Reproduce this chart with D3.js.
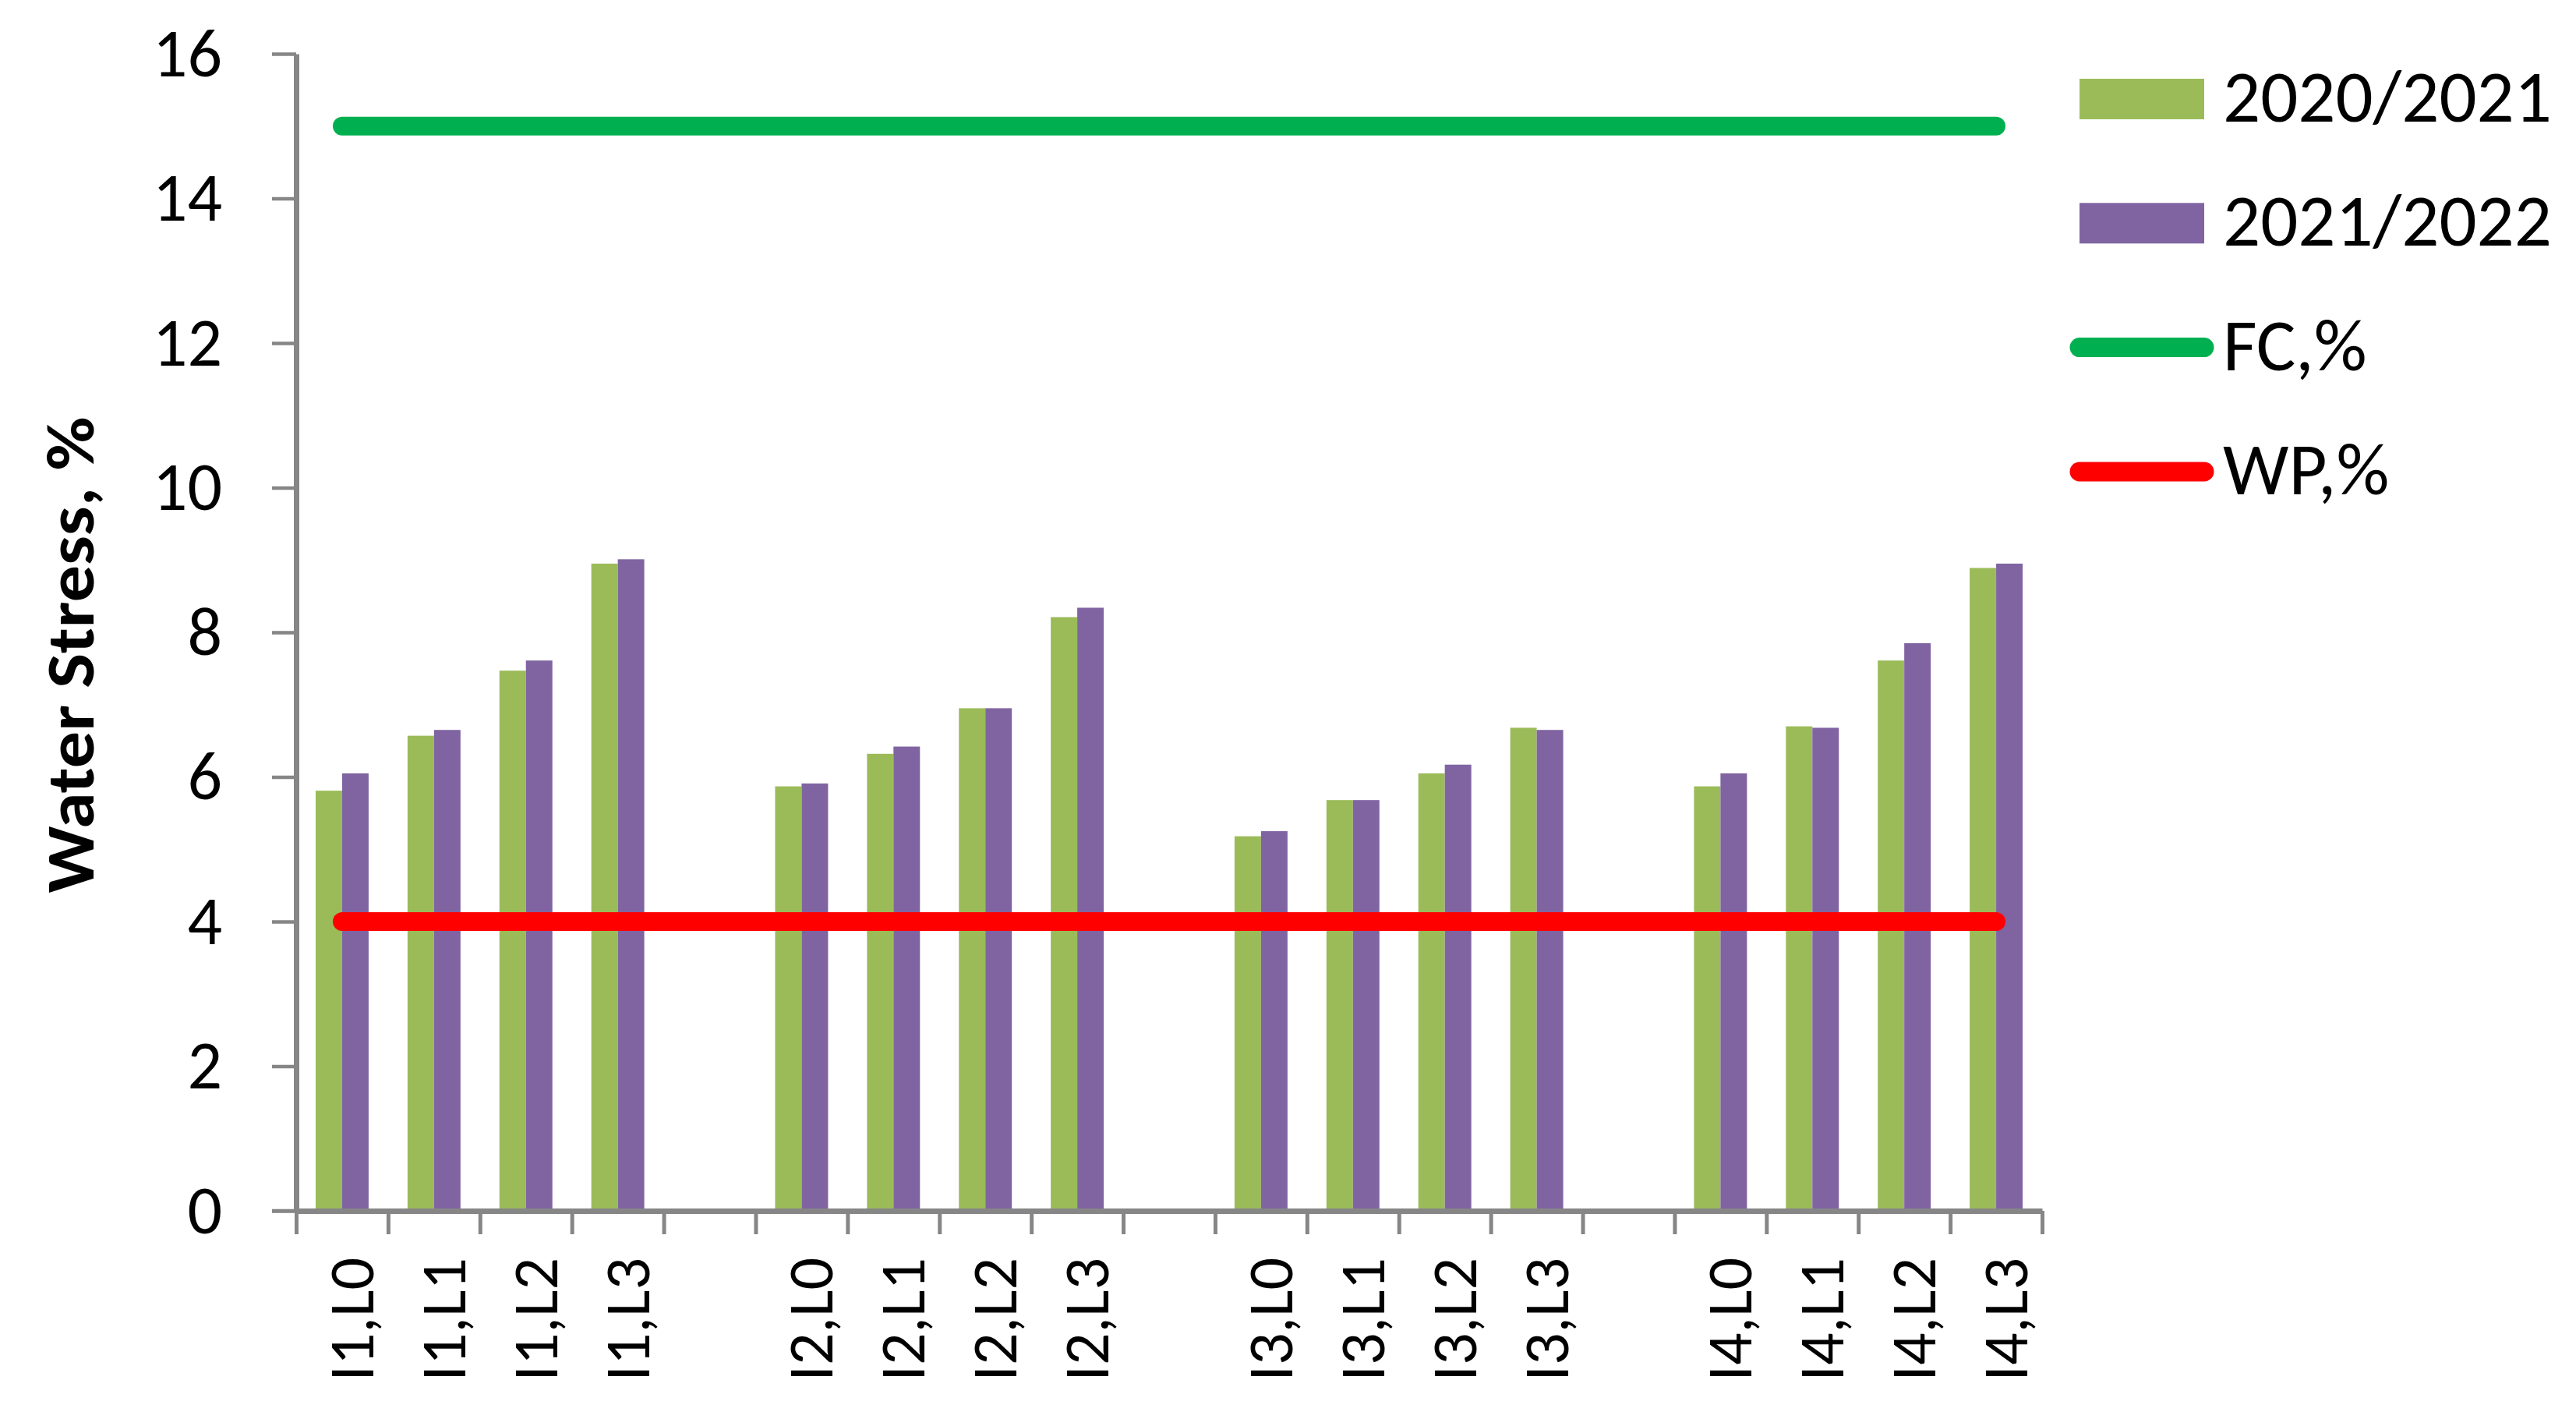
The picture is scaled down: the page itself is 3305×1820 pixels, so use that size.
<!DOCTYPE html>
<html>
<head>
<meta charset="utf-8">
<script src="https://cdn.jsdelivr.net/npm/d3@7"></script>
<style>
  body { margin: 0; background: #fff; }
  text { font-family: Calibri, Carlito, Lato, sans-serif; fill: #000; }
</style>
</head>
<body>
<div id="chart"></div>
<script>
var svgWidth = 3305;
var svgHeight = 1820;

var margin = { top: 69, right: 685, bottom: 267, left: 380 };
var width = svgWidth - margin.left - margin.right;
var height = svgHeight - margin.top - margin.bottom;

// data (blank strings are the gaps between treatment groups)
var categories = ["I1,L0", "I1,L1", "I1,L2", "I1,L3", "",
                  "I2,L0", "I2,L1", "I2,L2", "I2,L3", "",
                  "I3,L0", "I3,L1", "I3,L2", "I3,L3", "",
                  "I4,L0", "I4,L1", "I4,L2", "I4,L3"];
var season1 = [5.81, 6.57, 7.47, 8.95, null,
               5.87, 6.32, 6.95, 8.21, null,
               5.18, 5.68, 6.05, 6.68, null,
               5.87, 6.70, 7.61, 8.89];
var season2 = [6.05, 6.65, 7.61, 9.01, null,
               5.91, 6.42, 6.95, 8.34, null,
               5.25, 5.68, 6.17, 6.65, null,
               6.05, 6.68, 7.85, 8.95];
var fcValues = categories.map(function() { return 15; });
var wpValues = categories.map(function() { return 4; });
var yTicks = [0, 2, 4, 6, 8, 10, 12, 14, 16];

var seriesNames = ["2020/2021", "2021/2022"];
var barColors = ["#9BBB59", "#8064A2"];
var axisColor = "#868686";

var svg = d3.select("#chart")
  .append("svg")
  .attr("width", svgWidth)
  .attr("height", svgHeight);

var chartGroup = svg.append("g")
  .attr("transform", `translate(${margin.left}, ${margin.top})`);

// scales
var xScale = d3.scaleBand()
  .domain(d3.range(categories.length))
  .range([0, width])
  .padding(0);

var xSub = d3.scaleBand()
  .domain([0, 1])
  .range([0, xScale.bandwidth()])
  .paddingInner(0)
  .paddingOuter(0.735);

var xEdge = d3.scaleLinear()
  .domain([0, categories.length])
  .range([0, width]);

var yScale = d3.scaleLinear()
  .domain([0, 16])
  .range([height, 0]);

// bars
var seriesData = [season1, season2];
seriesData.forEach(function(values, s) {
  chartGroup.selectAll(".bar" + s)
    .data(values.map(function(v, i) { return { i: i, v: v }; }).filter(function(d) { return d.v !== null; }))
    .enter()
    .append("rect")
    .attr("class", "bar" + s)
    .attr("x", d => xScale(d.i) + xSub(s))
    .attr("y", d => yScale(d.v))
    .attr("width", xSub.bandwidth())
    .attr("height", d => height - yScale(d.v))
    .attr("fill", barColors[s]);
});

// axes
var leftAxis = d3.axisLeft(yScale)
  .tickValues(yTicks)
  .tickSize(31)
  .tickSizeOuter(0)
  .tickPadding(64);

var yAxisG = chartGroup.append("g").call(leftAxis);
yAxisG.select(".domain").attr("stroke", axisColor).attr("stroke-width", 7);
yAxisG.selectAll(".tick line").attr("stroke", axisColor).attr("stroke-width", 4.5);
yAxisG.selectAll(".tick text")
  .attr("font-size", "88px")
  .attr("font-family", "Calibri, Carlito, Lato, sans-serif")
  .attr("fill", "#000");

var bottomAxis = d3.axisBottom(xEdge)
  .tickValues(d3.range(categories.length + 1))
  .tickSize(30)
  .tickSizeOuter(0)
  .tickFormat("");

var xAxisG = chartGroup.append("g")
  .attr("transform", `translate(0, ${height})`)
  .call(bottomAxis);
xAxisG.select(".domain").attr("stroke", axisColor).attr("stroke-width", 7);
xAxisG.selectAll(".tick line").attr("stroke", axisColor).attr("stroke-width", 5);

// extend x axis line to the left under the 0 tick
chartGroup.append("line")
  .attr("x1", -31).attr("x2", 0)
  .attr("y1", height).attr("y2", height)
  .attr("stroke", axisColor)
  .attr("stroke-width", 4.5);

// category labels
chartGroup.selectAll(".xLabel")
  .data(categories.map(function(c, i) { return { c: c, i: i }; }).filter(d => d.c !== ""))
  .enter()
  .append("text")
  .attr("class", "xLabel")
  .attr("transform", d => `translate(${xScale(d.i) + xScale.bandwidth() / 2 + 40}, ${height + 60}) rotate(-90)`)
  .attr("text-anchor", "end")
  .attr("font-size", "82px")
  .text(d => d.c);

// reference lines
var line = d3.line()
  .x((d, i) => xScale(i) + xScale.bandwidth() / 2)
  .y(d => yScale(d));

chartGroup.append("path")
  .datum(fcValues)
  .attr("d", line)
  .attr("fill", "none")
  .attr("stroke", "#00B050")
  .attr("stroke-width", 24)
  .attr("stroke-linecap", "round");

chartGroup.append("path")
  .datum(wpValues)
  .attr("d", line)
  .attr("fill", "none")
  .attr("stroke", "#FF0000")
  .attr("stroke-width", 24)
  .attr("stroke-linecap", "round");

// y axis title
svg.append("text")
  .attr("transform", "translate(120, 840) rotate(-90)")
  .attr("text-anchor", "middle")
  .attr("font-size", "88px")
  .attr("font-weight", "bold")
  .attr("textLength", 611)
  .attr("lengthAdjust", "spacingAndGlyphs")
  .text("Water Stress, %");

// legend
var legendItems = [
  { name: seriesNames[0], type: "rect", color: barColors[0] },
  { name: seriesNames[1], type: "rect", color: barColors[1] },
  { name: "FC,%", type: "line", color: "#00B050" },
  { name: "WP,%", type: "line", color: "#FF0000" }
];

var legend = svg.append("g")
  .attr("transform", "translate(2668, 127)");

legendItems.forEach(function(item, i) {
  var g = legend.append("g").attr("transform", `translate(0, ${i * 159.3})`);
  if (item.type === "rect") {
    g.append("rect")
      .attr("x", 0).attr("y", -26)
      .attr("width", 160).attr("height", 52)
      .attr("fill", item.color);
  } else {
    g.append("line")
      .attr("x1", 0).attr("x2", 160)
      .attr("y1", 0).attr("y2", 0)
      .attr("stroke", item.color)
      .attr("stroke-width", 25)
      .attr("stroke-linecap", "round");
  }
  g.append("text")
    .attr("x", 184)
    .attr("y", 29)
    .attr("font-size", "95px")
    .text(item.name);
});
</script>
</body>
</html>
